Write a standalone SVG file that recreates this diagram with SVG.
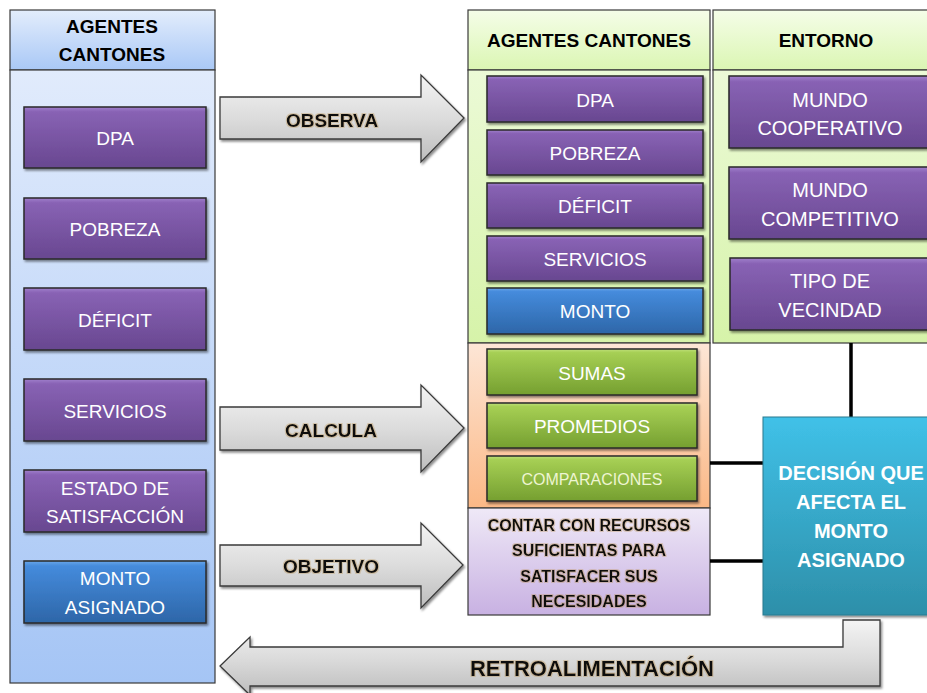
<svg xmlns="http://www.w3.org/2000/svg" width="927" height="693" viewBox="0 0 927 693">
<defs>
<linearGradient id="gLeftHead" x1="0" y1="0" x2="0" y2="1"><stop offset="0" stop-color="#e3edfc"/><stop offset="1" stop-color="#a9c8f6"/></linearGradient>
<linearGradient id="gLeftBody" x1="0" y1="0" x2="0" y2="1"><stop offset="0" stop-color="#e1ebfc"/><stop offset="1" stop-color="#a5c5f5"/></linearGradient>
<linearGradient id="gGreenHead" x1="0" y1="0" x2="0" y2="1"><stop offset="0" stop-color="#f5fde8"/><stop offset="1" stop-color="#dbf6b3"/></linearGradient>
<linearGradient id="gGreenBody" x1="0" y1="0" x2="0" y2="1"><stop offset="0" stop-color="#ecfad7"/><stop offset="1" stop-color="#d6f3a9"/></linearGradient>
<linearGradient id="gOrange" x1="0" y1="0" x2="0" y2="1"><stop offset="0" stop-color="#fde6d6"/><stop offset="1" stop-color="#fbb886"/></linearGradient>
<linearGradient id="gLilac" x1="0" y1="0" x2="0" y2="1"><stop offset="0" stop-color="#efe9f7"/><stop offset="1" stop-color="#c8b1e2"/></linearGradient>
<linearGradient id="gPurple" x1="0" y1="0" x2="0" y2="1"><stop offset="0" stop-color="#a080cc"/><stop offset="0.08" stop-color="#8862b4"/><stop offset="1" stop-color="#684790"/></linearGradient>
<linearGradient id="gBlue" x1="0" y1="0" x2="0" y2="1"><stop offset="0" stop-color="#6aa6ea"/><stop offset="0.08" stop-color="#458bdc"/><stop offset="1" stop-color="#2d66a8"/></linearGradient>
<linearGradient id="gLime" x1="0" y1="0" x2="0" y2="1"><stop offset="0" stop-color="#c0e07c"/><stop offset="0.08" stop-color="#a6cf54"/><stop offset="1" stop-color="#759f30"/></linearGradient>
<linearGradient id="gCyan" x1="0" y1="0" x2="0" y2="1"><stop offset="0" stop-color="#40c1e8"/><stop offset="1" stop-color="#2d8fa9"/></linearGradient>
<linearGradient id="gArrow" x1="0" y1="0" x2="0" y2="1"><stop offset="0" stop-color="#f4f4f4"/><stop offset="0.5" stop-color="#dcdcdc"/><stop offset="1" stop-color="#bdbdbd"/></linearGradient>
<filter id="sh" x="-10%" y="-10%" width="130%" height="140%"><feDropShadow dx="1.5" dy="2" stdDeviation="1.2" flood-color="#000" flood-opacity="0.45"/></filter>
<filter id="glow" x="-10%" y="-30%" width="120%" height="160%"><feMorphology in="SourceAlpha" operator="dilate" radius="0.6" result="d"/><feFlood flood-color="#b89050" flood-opacity="0.35"/><feComposite in2="d" operator="in" result="g"/><feMerge><feMergeNode in="g"/><feMergeNode in="SourceGraphic"/></feMerge></filter>
</defs>
<style>
.panel{stroke:#3a3a3a;stroke-width:1.2}
.box{stroke:#2a2a2a;stroke-width:1.5;filter:url(#sh)}
.p{fill:url(#gPurple)}
.b{fill:url(#gBlue)}
.l{fill:url(#gLime)}
.arrow{fill:url(#gArrow);stroke:#3a3a3a;stroke-width:1.3;filter:url(#sh)}
.wt{font-family:"Liberation Sans",Arial,sans-serif;font-size:19px;fill:#ffffff;text-anchor:middle}
.hd{font-family:"Liberation Sans",Arial,sans-serif;font-size:19px;font-weight:bold;fill:#000;text-anchor:middle}
.al{font-family:"Liberation Sans",Arial,sans-serif;font-size:19px;font-weight:bold;fill:#111;text-anchor:middle;filter:url(#glow)}
.ct{font-family:"Liberation Sans",Arial,sans-serif;font-size:16px;font-weight:bold;fill:#111;text-anchor:middle;filter:url(#glow)}
.dc{font-family:"Liberation Sans",Arial,sans-serif;font-size:20px;font-weight:bold;fill:#ffffff;text-anchor:middle}
.con{stroke:#000;stroke-width:3.5;fill:none}
</style>

<rect width="927" height="693" fill="#ffffff"/>

<!-- Left column -->
<g id="left-panel">
<rect class="panel" x="10" y="10" width="205" height="60" fill="url(#gLeftHead)"/>
<rect class="panel" x="10" y="70" width="205" height="613" fill="url(#gLeftBody)"/>
<text class="hd" x="112" y="33">AGENTES</text>
<text class="hd" x="112" y="61">CANTONES</text>
</g>
<g id="l-dpa"><rect class="box p" x="24" y="107" width="182" height="61"/><text class="wt" x="115" y="145">DPA</text></g>
<g id="l-pobreza"><rect class="box p" x="24" y="198" width="182" height="61"/><text class="wt" x="115" y="236">POBREZA</text></g>
<g id="l-deficit"><rect class="box p" x="24" y="288" width="182" height="62"/><text class="wt" x="115" y="327">DÉFICIT</text></g>
<g id="l-servicios"><rect class="box p" x="24" y="379" width="182" height="62"/><text class="wt" x="115" y="418">SERVICIOS</text></g>
<g id="l-estado"><rect class="box p" x="24" y="470" width="182" height="62"/><text class="wt" x="115" y="495">ESTADO DE</text><text class="wt" x="115" y="523">SATISFACCIÓN</text></g>
<g id="l-monto"><rect class="box b" x="24" y="561" width="182" height="62"/><text class="wt" x="115" y="585">MONTO</text><text class="wt" x="115" y="614">ASIGNADO</text></g>

<!-- Middle column -->
<g id="mid-panel">
<rect class="panel" x="468" y="10" width="242" height="60" fill="url(#gGreenHead)"/>
<rect class="panel" x="468" y="70" width="242" height="273" fill="url(#gGreenBody)"/>
<text class="hd" x="589" y="47" textLength="204" lengthAdjust="spacingAndGlyphs">AGENTES CANTONES</text>
</g>
<g id="m-dpa"><rect class="box p" x="487" y="76" width="216" height="46"/><text class="wt" x="595" y="107">DPA</text></g>
<g id="m-pobreza"><rect class="box p" x="487" y="130" width="216" height="45"/><text class="wt" x="595" y="160">POBREZA</text></g>
<g id="m-deficit"><rect class="box p" x="487" y="183" width="216" height="45"/><text class="wt" x="595" y="213">DÉFICIT</text></g>
<g id="m-servicios"><rect class="box p" x="487" y="236" width="216" height="45"/><text class="wt" x="595" y="266">SERVICIOS</text></g>
<g id="m-monto"><rect class="box b" x="487" y="288" width="216" height="46"/><text class="wt" x="595" y="318">MONTO</text></g>

<g id="calc-panel"><rect class="panel" x="468" y="343" width="242" height="165" fill="url(#gOrange)"/></g>
<g id="m-sumas"><rect class="box l" x="487" y="349" width="210" height="46"/><text class="wt" x="592" y="380">SUMAS</text></g>
<g id="m-promedios"><rect class="box l" x="487" y="403" width="210" height="45"/><text class="wt" x="592" y="433">PROMEDIOS</text></g>
<g id="m-comparaciones"><rect class="box l" x="487" y="456" width="210" height="45"/><text class="wt" x="592" y="485" style="font-size:16px;fill:#eef5d2">COMPARACIONES</text></g>

<g id="objetivo-panel">
<rect class="panel" x="468" y="508" width="242" height="107" fill="url(#gLilac)"/>
<text class="ct" x="589" y="531">CONTAR CON RECURSOS</text>
<text class="ct" x="589" y="556">SUFICIENTAS PARA</text>
<text class="ct" x="589" y="582">SATISFACER SUS</text>
<text class="ct" x="589" y="607">NECESIDADES</text>
</g>

<!-- Entorno column -->
<g id="entorno-panel">
<rect class="panel" x="713" y="10" width="224" height="60" fill="url(#gGreenHead)"/>
<rect class="panel" x="713" y="70" width="224" height="273" fill="url(#gGreenBody)"/>
<text class="hd" x="826" y="47">ENTORNO</text>
</g>
<g id="e-cooperativo"><rect class="box p" x="729" y="76" width="210" height="72"/><text class="wt" x="830" y="107" style="font-size:20px">MUNDO</text><text class="wt" x="830" y="135" style="font-size:20px">COOPERATIVO</text></g>
<g id="e-competitivo"><rect class="box p" x="729" y="167" width="210" height="72"/><text class="wt" x="830" y="197" style="font-size:20px">MUNDO</text><text class="wt" x="830" y="226" style="font-size:20px">COMPETITIVO</text></g>
<g id="e-vecindad"><rect class="box p" x="730" y="258" width="210" height="72"/><text class="wt" x="830" y="288" style="font-size:20px">TIPO DE</text><text class="wt" x="830" y="317" style="font-size:20px">VECINDAD</text></g>

<!-- Connectors -->
<g id="connectors">
<line class="con" x1="851" y1="343" x2="851" y2="417"/>
<line class="con" x1="710" y1="463" x2="763" y2="463"/>
<line class="con" x1="710" y1="561" x2="763" y2="561"/>
</g>

<g id="decision">
<rect x="763" y="417" width="180" height="198" fill="url(#gCyan)" stroke="#2a7a90" stroke-width="1" filter="url(#sh)"/>
<text class="dc" x="851" y="480">DECISIÓN QUE</text>
<text class="dc" x="851" y="509">AFECTA EL</text>
<text class="dc" x="851" y="538">MONTO</text>
<text class="dc" x="851" y="567">ASIGNADO</text>
</g>

<!-- Arrows -->
<g id="arrow-observa">
<path class="arrow" d="M220,97 H421 V75 L464,118 L421,162 V139 H220 Z"/>
<text class="al" x="332" y="127">OBSERVA</text>
</g>
<g id="arrow-calcula">
<path class="arrow" d="M220,407 H421 V385 L464,428 L421,472 V450 H220 Z"/>
<text class="al" x="331" y="437">CALCULA</text>
</g>
<g id="arrow-objetivo">
<path class="arrow" d="M220,545 H421 V523 L463,565 L421,608 V586 H220 Z"/>
<text class="al" x="331" y="573">OBJETIVO</text>
</g>
<g id="arrow-retro">
<path class="arrow" d="M880,620 V686 H250 V695 L220,666 L250,637 V647 H843 V620 Z"/>
<text class="al" x="592" y="676" style="font-size:22px">RETROALIMENTACIÓN</text>
</g>
</svg>
